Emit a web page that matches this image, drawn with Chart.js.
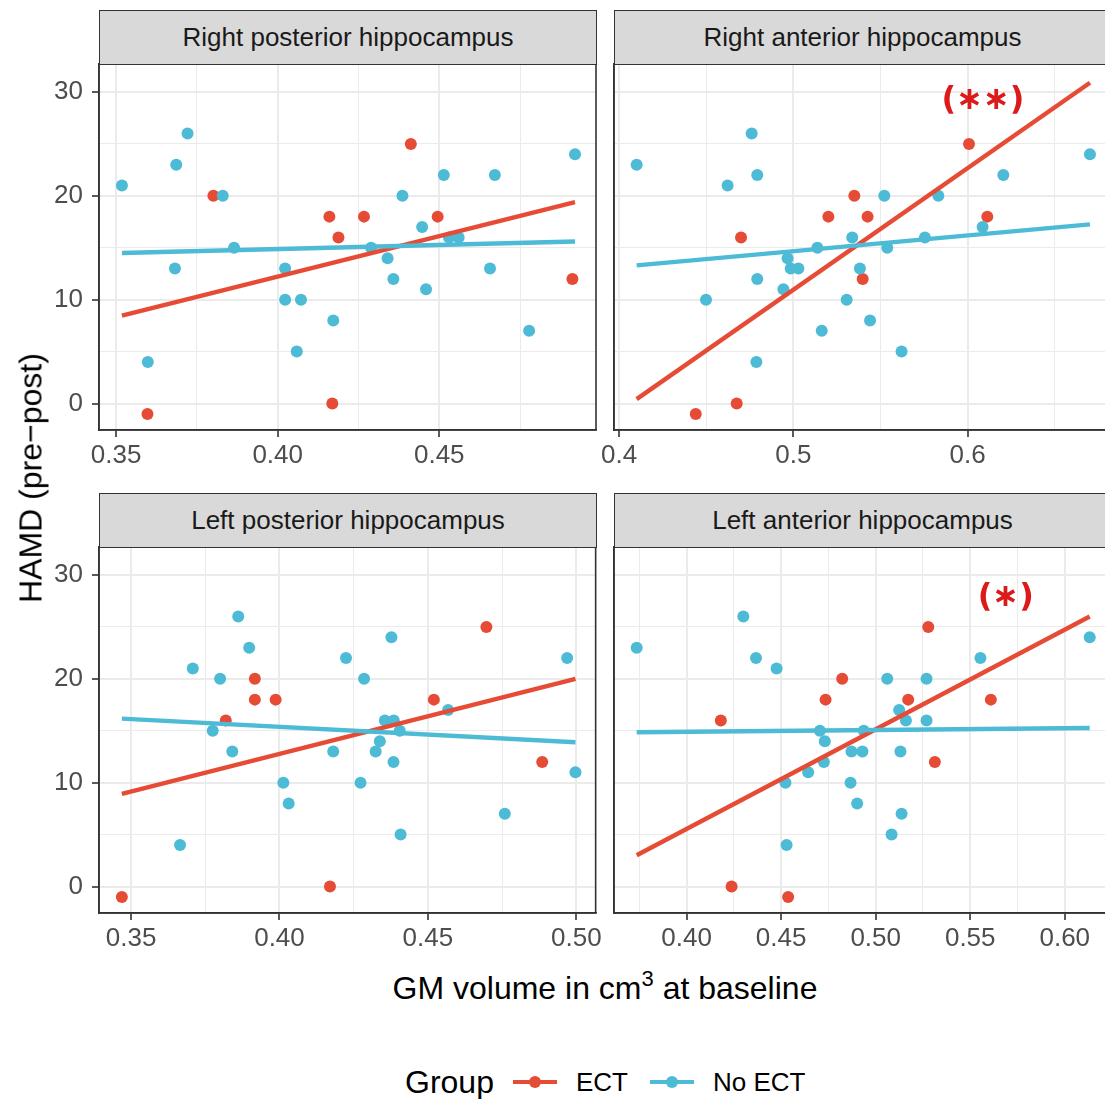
<!DOCTYPE html>
<html>
<head>
<meta charset="utf-8">
<title>HAMD change vs hippocampal GM volume</title>
<script src="https://cdn.jsdelivr.net/npm/chart.js@4.4.1/dist/chart.umd.min.js"></script>
<style>
  html, body { margin: 0; padding: 0; background: #fff; }
  body { width: 1105px; height: 1099px; overflow: hidden; position: relative;
         font-family: "Liberation Sans", Arial, sans-serif; }
  canvas.panel { position: absolute; }
  .strip { position: absolute; box-sizing: border-box; height: 55px; background: #d9d9d9;
           border: 1.5px solid #333; color: #1a1a1a; font-size: 26px;
           display: flex; align-items: center; justify-content: center; white-space: nowrap; }
  .ytitle { position: absolute; left: 31px; top: 478px; font-size: 32px; color: #000;
            transform: translate(-50%, -50%) rotate(-90deg); white-space: nowrap; }
  .xtitle { position: absolute; left: 605px; top: 988px; font-size: 32px; color: #000;
            transform: translate(-50%, -50%); white-space: nowrap; }
  .xtitle sup { font-size: 22px; vertical-align: 13px; line-height: 0; }
  .legend { position: absolute; left: 405px; top: 1062px; height: 40px; display: flex;
            align-items: center; white-space: nowrap; }
  .legend .title { font-size: 32px; color: #000; margin-right: 19px; }
  .legend .key { position: relative; display: inline-block; width: 44px; height: 40px; margin-right: 19px; }
  .legend .key .bar { position: absolute; left: 0; right: 0; top: 18px; height: 4px; }
  .legend .key .dot { position: absolute; left: 16px; top: 14px; width: 12px; height: 12px; border-radius: 50%; }
  .legend .lab { font-size: 26px; color: #000; margin-right: 22px; }
</style>
</head>
<body>

<canvas class="panel" id="rp" width="605" height="480" style="left:0;top:0"></canvas>
<canvas class="panel" id="ra" width="535" height="480" style="left:580px;top:0"></canvas>
<canvas class="panel" id="lp" width="605" height="480" style="left:0;top:483px"></canvas>
<canvas class="panel" id="la" width="535" height="480" style="left:580px;top:483px"></canvas>

<div class="strip" style="left:99px;top:10px;width:498px">Right posterior hippocampus</div>
<div class="strip" style="left:614px;top:10px;width:497px">Right anterior hippocampus</div>
<div class="strip" style="left:99px;top:493px;width:498px">Left posterior hippocampus</div>
<div class="strip" style="left:614px;top:493px;width:497px">Left anterior hippocampus</div>

<div class="ytitle">HAMD (pre−post)</div>
<div class="xtitle">GM volume in cm<sup>3</sup> at baseline</div>

<div class="legend">
  <span class="title">Group</span>
  <span class="key"><span class="bar" style="background:#E64B35"></span><span class="dot" style="background:#E64B35"></span></span>
  <span class="lab">ECT</span>
  <span class="key"><span class="bar" style="background:#4DBBD5"></span><span class="dot" style="background:#4DBBD5"></span></span>
  <span class="lab">No ECT</span>
</div>

<script>
// ---- shared y axis ----
const yMajor = [0, 10, 20, 30];
const yMinor = [5, 15, 25];
const yLimits = [-2.55, 32.7];

const groupNames = ['ECT', 'No ECT'];
const groupColors = ['#E64B35', '#4DBBD5'];

// ---- Right posterior hippocampus ----
const rpEctX = [0.3597, 0.3801, 0.4160, 0.4188, 0.4267, 0.4169, 0.4412, 0.4495, 0.4912];
const rpEctY = [-1, 20, 18, 16, 18, 0, 25, 18, 12];
const rpNoX = [0.3518, 0.3686, 0.3721, 0.3830, 0.3865, 0.3682, 0.3598, 0.4023, 0.4023, 0.4072, 0.4059, 0.4172, 0.4289,
               0.4340, 0.4358, 0.4386, 0.4447, 0.4459, 0.4514, 0.4530, 0.4560, 0.4672, 0.4657, 0.4778, 0.4920];
const rpNoY = [21, 23, 26, 20, 15, 13, 4, 13, 10, 10, 5, 8, 15, 14, 12, 20, 17, 11, 22, 16, 16, 22, 13, 7, 24];
const rpFitX = [0.3518, 0.4920];
const rpEctFitY = [8.47, 19.4];
const rpNoFitY = [14.5, 15.6];
const rpXMajor = [0.35, 0.40, 0.45];
const rpXLabels = ['0.35', '0.40', '0.45'];
const rpXMinor = [0.375, 0.425, 0.475];
const rpXLimits = [0.3447, 0.4985];

// ---- Right anterior hippocampus ----
const raEctX = [0.4440, 0.4675, 0.4700, 0.5201, 0.5350, 0.5426, 0.5398, 0.6008, 0.6113];
const raEctY = [-1, 0, 16, 18, 20, 18, 12, 25, 18];
const raNoX = [0.4101, 0.4761, 0.4793, 0.4623, 0.5522, 0.5832, 0.6205, 0.6702, 0.6086, 0.5755, 0.5338, 0.5138, 0.5539,
               0.4967, 0.4985, 0.5029, 0.5382, 0.4793, 0.4943, 0.4499, 0.5306, 0.5163, 0.5440, 0.5621, 0.4788];
const raNoY = [23, 26, 22, 21, 20, 20, 22, 24, 17, 16, 16, 15, 15, 14, 13, 13, 13, 12, 11, 10, 10, 7, 8, 5, 4];
const raFitX = [0.4101, 0.6702];
const raEctFitY = [0.42, 30.9];
const raNoFitY = [13.3, 17.25];
const raXMajor = [0.4, 0.5, 0.6];
const raXLabels = ['0.4', '0.5', '0.6'];
const raXMinor = [0.45, 0.55, 0.65];
const raXLimits = [0.3971, 0.6817];
const raMark = '(∗∗)';

// ---- Left posterior hippocampus ----
const lpEctX = [0.3469, 0.4170, 0.3819, 0.3917, 0.3917, 0.3987, 0.4520, 0.4697, 0.4885];
const lpEctY = [-1, 0, 16, 20, 18, 18, 18, 25, 12];
const lpNoX = [0.3861, 0.3898, 0.3708, 0.3800, 0.4377, 0.4224, 0.4285, 0.4969, 0.4568, 0.4355, 0.4385, 0.3775, 0.4405,
               0.4338, 0.4324, 0.3841, 0.4181, 0.4384, 0.4997, 0.4013, 0.4273, 0.4031, 0.4759, 0.4408, 0.3665];
const lpNoY = [26, 23, 21, 20, 24, 22, 20, 22, 17, 16, 16, 15, 15, 14, 13, 13, 13, 12, 11, 10, 10, 8, 7, 5, 4];
const lpFitX = [0.3469, 0.4997];
const lpEctFitY = [8.93, 20.0];
const lpNoFitY = [16.17, 13.9];
const lpXMajor = [0.35, 0.40, 0.45, 0.50];
const lpXLabels = ['0.35', '0.40', '0.45', '0.50'];
const lpXMinor = [0.375, 0.425, 0.475];
const lpXLimits = [0.3392, 0.5065];

// ---- Left anterior hippocampus ----
const laEctX = [0.4238, 0.4537, 0.4181, 0.4735, 0.4823, 0.5172, 0.5278, 0.5313, 0.5609];
const laEctY = [0, -1, 16, 18, 20, 18, 25, 12, 18];
const laNoX = [0.3736, 0.4300, 0.4367, 0.4476, 0.5061, 0.5269, 0.5554, 0.6132, 0.5124, 0.5160, 0.5269, 0.4705, 0.4937,
               0.4731, 0.4872, 0.4930, 0.5131, 0.4726, 0.4643, 0.4523, 0.4867, 0.4902, 0.5137, 0.5084, 0.4529];
const laNoY = [23, 26, 22, 21, 20, 20, 22, 24, 17, 16, 16, 15, 15, 14, 13, 13, 13, 12, 11, 10, 10, 8, 7, 5, 4];
const laFitX = [0.3736, 0.6132];
const laEctFitY = [3.01, 26.0];
const laNoFitY = [14.86, 15.27];
const laXMajor = [0.40, 0.45, 0.50, 0.55, 0.60];
const laXLabels = ['0.40', '0.45', '0.50', '0.55', '0.60'];
const laXMinor = [0.375, 0.425, 0.475, 0.525, 0.575, 0.625];
const laXLimits = [0.3616, 0.6238];
const laMark = '(∗)';

const FONT = '"Liberation Sans", Arial, sans-serif';
const near = (a, b) => Math.abs(a - b) < 1e-9;
const pts = (xs, ys) => xs.map((x, i) => ({ x: x, y: ys[i] }));

// Panel frame drawn over the data, like a full box around the plotting region
const framePlugin = {
  id: 'frame',
  afterDraw(chart) {
    const a = chart.chartArea, c = chart.ctx;
    c.save();
    c.strokeStyle = '#333';
    c.lineWidth = 1.6;
    c.strokeRect(a.left, a.top, a.right - a.left, a.bottom - a.top);
    c.restore();
  }
};

// Significance marker placed in data coordinates
const markPlugin = {
  id: 'mark',
  afterDatasetsDraw(chart, args, opts) {
    if (!opts || !opts.text) return;
    const c = chart.ctx;
    const px = chart.scales.x.getPixelForValue(opts.x);
    const py = chart.scales.y.getPixelForValue(opts.y);
    c.save();
    c.fillStyle = '#dd1a1a';
    c.font = 'bold 32px "DejaVu Sans", ' + FONT;
    c.textAlign = 'center';
    c.textBaseline = 'middle';
    c.fillText(opts.text, px, py);
    c.restore();
  }
};

function tickScale(majors, minors, labels, limits, showLabels, fixedSize, isX) {
  const all = majors.concat(minors).sort((a, b) => a - b);
  const isMajor = v => majors.some(m => near(m, v));
  return {
    type: 'linear',
    position: isX ? 'bottom' : 'left',
    min: limits[0],
    max: limits[1],
    afterBuildTicks: s => { s.ticks = all.map(v => ({ value: v })); },
    afterFit: s => { if (isX) s.height = fixedSize; else s.width = fixedSize; },
    border: { display: true, color: '#333', width: 1.6 },
    grid: {
      drawTicks: showLabels,
      tickLength: 7,
      tickWidth: 1.6,
      tickColor: ctx => (ctx.tick && isMajor(ctx.tick.value)) ? '#333' : 'rgba(0,0,0,0)',
      color: '#ebebeb',
      lineWidth: ctx => (ctx.tick && isMajor(ctx.tick.value)) ? 2 : 1
    },
    ticks: {
      display: showLabels,
      autoSkip: false,
      maxRotation: 0,
      minRotation: 0,
      padding: isX ? 3 : 9,
      color: '#4d4d4d',
      font: { family: FONT, size: 26 },
      callback: v => {
        const i = majors.findIndex(m => near(m, v));
        return i >= 0 ? labels[i] : '';
      }
    }
  };
}

function panel(id, d) {
  const datasets = [
    { label: groupNames[1] + ' fit', data: pts(d.fitX, d.noFit), showLine: true, borderColor: groupColors[1],
      borderWidth: 4.4, pointRadius: 0, fill: false },
    { label: groupNames[0] + ' fit', data: pts(d.fitX, d.ectFit), showLine: true, borderColor: groupColors[0],
      borderWidth: 4.4, pointRadius: 0, fill: false },
    { label: groupNames[1], data: pts(d.noX, d.noY), backgroundColor: groupColors[1], borderWidth: 0,
      pointRadius: 6, pointHoverRadius: 6 },
    { label: groupNames[0], data: pts(d.ectX, d.ectY), backgroundColor: groupColors[0], borderWidth: 0,
      pointRadius: 6, pointHoverRadius: 6 }
  ];
  return new Chart(document.getElementById(id), {
    type: 'scatter',
    data: { datasets: datasets },
    options: {
      responsive: false,
      animation: false,
      devicePixelRatio: 1,
      events: [],
      layout: { autoPadding: false, padding: { top: 64, right: d.padRight, bottom: 0, left: 0 } },
      scales: {
        x: tickScale(d.xMajor, d.xMinor, d.xLabels, d.xLimits, true, 50, true),
        y: tickScale(yMajor, yMinor, yMajor.map(String), yLimits, d.yLabels, d.yWidth, false)
      },
      plugins: {
        legend: { display: false },
        tooltip: { enabled: false },
        mark: d.mark ? { text: d.mark, x: d.markX, y: d.markY } : {}
      }
    },
    plugins: [framePlugin, markPlugin]
  });
}

panel('rp', { ectX: rpEctX, ectY: rpEctY, noX: rpNoX, noY: rpNoY, fitX: rpFitX, ectFit: rpEctFitY, noFit: rpNoFitY,
  xMajor: rpXMajor, xMinor: rpXMinor, xLabels: rpXLabels, xLimits: rpXLimits, yLabels: true, yWidth: 99, padRight: 9 });
panel('ra', { ectX: raEctX, ectY: raEctY, noX: raNoX, noY: raNoY, fitX: raFitX, ectFit: raEctFitY, noFit: raNoFitY,
  xMajor: raXMajor, xMinor: raXMinor, xLabels: raXLabels, xLimits: raXLimits, yLabels: false, yWidth: 34, padRight: 5,
  mark: raMark, markX: 0.6088, markY: 29.2 });
panel('lp', { ectX: lpEctX, ectY: lpEctY, noX: lpNoX, noY: lpNoY, fitX: lpFitX, ectFit: lpEctFitY, noFit: lpNoFitY,
  xMajor: lpXMajor, xMinor: lpXMinor, xLabels: lpXLabels, xLimits: lpXLimits, yLabels: true, yWidth: 99, padRight: 9 });
panel('la', { ectX: laEctX, ectY: laEctY, noX: laNoX, noY: laNoY, fitX: laFitX, ectFit: laEctFitY, noFit: laNoFitY,
  xMajor: laXMajor, xMinor: laXMinor, xLabels: laXLabels, xLimits: laXLimits, yLabels: false, yWidth: 34, padRight: 5,
  mark: laMark, markX: 0.5688, markY: 27.8 });
</script>
</body>
</html>
